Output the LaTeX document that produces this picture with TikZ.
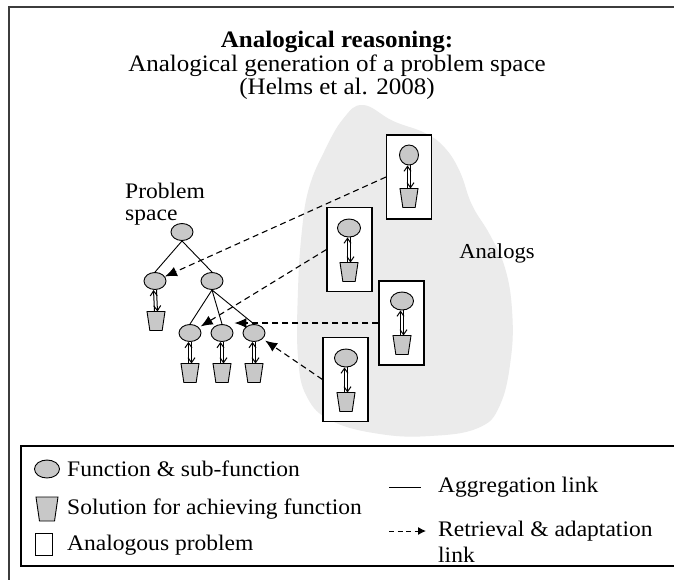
\documentclass[tikz,border=0pt]{standalone}
\usepackage{fontspec}
\setmainfont{Liberation Serif}[FakeStretch=1.06]
\usetikzlibrary{shapes.geometric,arrows.meta}
\definecolor{fgray}{HTML}{C8C8C8}
\definecolor{blobgray}{HTML}{EBEBEB}
\definecolor{framegray}{HTML}{3C3C3C}
\tikzset{
  func/.style={ellipse,draw,fill=fgray,line width=0.9pt,minimum width=22pt,minimum height=17pt,inner sep=0pt},
  sol/.style={trapezium,draw,fill=fgray,line width=0.9pt,trapezium stretches=true,
    trapezium angle=77,shape border rotate=180,minimum width=18pt,minimum height=19pt,inner sep=1pt},
  abox/.style={draw,fill=white,line width=1.1pt,minimum width=45pt,minimum height=84pt,inner sep=0pt},
  agg/.style={line width=0.9pt},
  barb/.style={line width=1pt,-{Straight Barb[length=5pt,width=7pt]}},
  retr/.style={line width=1.1pt,dash pattern=on 6pt off 4pt,-{Latex[length=12pt,width=10pt]}},
  txt/.style={font=\fontsize{22.2}{25}\selectfont,inner sep=0pt},
  ttl/.style={font=\fontsize{23.6}{23}\selectfont,inner sep=0pt},
}
\begin{document}
\begin{tikzpicture}[x=1pt,y=-1pt]
\useasboundingbox (0,0) rectangle (674,579);
\clip (0,0) rectangle (674,579);
\fill[white] (0,0) rectangle (674,579);

% outer frame (runs off the right and bottom edges)
\draw[framegray,line width=2pt] (9,590) -- (9,7) -- (690,7);

% title
\node[ttl,font=\fontsize{23.6}{23}\selectfont\bfseries] (t1) at (337,42) {Analogical reasoning:};
\node[ttl] (t2) at (337,65.5) {Analogical generation of a problem space};
\node[ttl] (t3) at (337,89) {(Helms et al. 2008)};

% region of analogs
\fill[blobgray] plot[smooth cycle,tension=0.7] coordinates {
  (363,105) (393,121) (425,133) (445,148) (460,172) (472,205) (490,235)
  (505,268) (512,310) (511,357) (500,405) (478,428) (430,436) (380,434)
  (332,421) (307,397) (298,357) (298,290) (302,230) (309,188) (324,152) (343,119)};
\node[txt,font=\fontsize{21.3}{25}\selectfont] (analogs) at (497,253) {Analogs};

% problem space tree
\node[txt,align=left,anchor=north west,font=\fontsize{22.2}{22}\selectfont] (ps) at (125,183) {Problem\\space};
\node[func] (root) at (182,232) {};
\node[func] (lc) at (155,281) {};
\node[func] (rc) at (212,281) {};
\node[func] (b1) at (190,333) {};
\node[func] (b2) at (222,333) {};
\node[func] (b3) at (254,333) {};
\node[sol] (lcs) at (156,321) {};
\node[sol] (b1s) at (190,373) {};
\node[sol] (b2s) at (222,373) {};
\node[sol] (b3s) at (254,373) {};

\draw[agg] (root.south) -- (lc.north);
\draw[agg] (root.south) -- (rc.north);
\draw[agg] (rc.south) -- (b1.north);
\draw[agg] (rc.south) -- (b2.north);
\draw[agg] (rc.south) -- (b3.north);

% analogous problems
\node[abox] (a1) at (409,177) {};
\node[func,minimum width=19pt,minimum height=20pt] (a1f) at (409,155) {};
\node[sol] (a1s) at (409,198) {};
\node[abox] (a2) at (349.5,249.5) {};
\node[func,minimum width=23pt,minimum height=18pt] (a2f) at (349,228) {};
\node[sol] (a2s) at (349,272) {};
\node[abox] (a3) at (401.5,323) {};
\node[func,minimum width=23pt,minimum height=18pt] (a3f) at (402,301) {};
\node[sol] (a3s) at (402,345) {};
\node[abox] (a4) at (345.5,379.5) {};
\node[func,minimum width=23pt,minimum height=18pt] (a4f) at (346,358) {};
\node[sol] (a4s) at (346,402) {};

% two-way links between a function and its solution
\foreach \f/\s in {lc/lcs,b1/b1s,b2/b2s,b3/b3s,a1f/a1s,a2f/a2s,a3f/a3s,a4f/a4s}{
  \draw[barb] ([xshift=-1.5pt,yshift=9.5pt]\s.center) -- ([xshift=-1.5pt]\f.south);
  \draw[barb] ([xshift=1.5pt]\f.south) -- ([xshift=1.5pt,yshift=9.5pt]\s.center);
}

% retrieval and adaptation links
\draw[retr] (a1.west) -- (lc);
\draw[retr,shorten >=2pt] (a2.west) -- (b1);
\draw[retr] (a3.west) -- ([xshift=1pt]a3.west -| b2.east);
\draw[retr,shorten >=3pt] (a4.west) -- (b3);

% legend
\draw[line width=1.1pt] (690,446) -- (21,446) -- (21,566) -- (690,566);
\node[func,minimum width=25pt,minimum height=18pt] (lgf) at (47,469) {};
\node[sol,minimum width=22pt,minimum height=24pt] (lgs) at (47,509) {};
\node[draw,line width=0.9pt,minimum width=17pt,minimum height=22pt,inner sep=0pt] (lgb) at (44,544) {};
\node[txt,anchor=west] (lgft) at (67,469) {Function \& sub-function};
\node[txt,anchor=west] (lgst) at (67,509) {Solution for achieving function};
\node[txt,anchor=west] (lgbt) at (67,545) {Analogous problem};

\coordinate (la1) at (389,487);
\coordinate (la2) at (421,487);
\draw[agg] (la1) -- (la2);
\node[txt,anchor=west] (lgat) at (438,487) {Aggregation link};

\coordinate (lr1) at (389,531);
\coordinate (lr2) at (426,531);
\draw[line width=1pt,dash pattern=on 5pt off 3.5pt,-{Latex[length=8pt,width=8pt]}] (lr1) -- (lr2);
\node[txt,anchor=north west,align=left,font=\fontsize{22.2}{26}\selectfont] (lgrt) at (438,521) {Retrieval \& adaptation\\link};
\end{tikzpicture}
\end{document}
